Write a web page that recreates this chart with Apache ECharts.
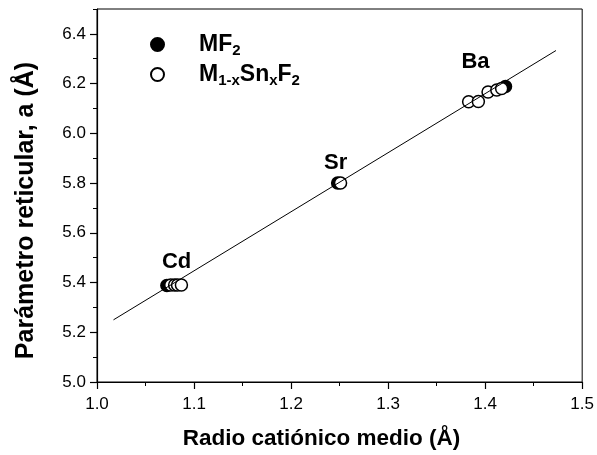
<!DOCTYPE html>
<html><head><meta charset="utf-8">
<script src="https://cdn.jsdelivr.net/npm/echarts@6/dist/echarts.min.js"></script>
<style>html,body{margin:0;padding:0;background:#fff}#c{width:597px;height:455px}</style>
</head><body><div id="c"></div>
<script>
const xTicks = [1.0, 1.1, 1.2, 1.3, 1.4, 1.5];
const yTicks = [5.0, 5.2, 5.4, 5.6, 5.8, 6.0, 6.2, 6.4];
const mfRadius = [1.072, 1.248, 1.421];
const mfLattice = [5.388, 5.800, 6.188];
const ssRadius = [1.076, 1.080, 1.083, 1.087, 1.251, 1.383, 1.393, 1.403, 1.412, 1.417];
const ssLattice = [5.390, 5.390, 5.390, 5.390, 5.800, 6.127, 6.128, 6.166, 6.174, 6.180];
const fitX = [1.017, 1.473];
const fitY = [5.250, 6.333];
const labelNames = ['Cd', 'Sr', 'Ba'];
const labelX = [1.082, 1.246, 1.390];
const labelY = [5.482, 5.880, 6.286];

const FONT = 'Liberation Sans, Arial, sans-serif';
const chart = echarts.init(document.getElementById('c'), null, {renderer: 'canvas'});
const zip = (a, b) => a.map((v, i) => [v, b[i]]);
const rich = {
  sp: {width: 30},
  b: {fontSize: 23, fontWeight: 'bold', color: '#000', fontFamily: FONT, lineHeight: 26},
  s: {fontSize: 15, fontWeight: 'bold', color: '#000', fontFamily: FONT, padding: [12, 0, 0, 0], lineHeight: 26}
};
chart.setOption({
  animation: false,
  backgroundColor: '#fff',
  grid: {left: 97, right: 12, top: 9, bottom: 72, show: true, borderColor: '#000', borderWidth: 1},
  legend: {
    data: ['MF2', 'M1-xSnxF2'], orient: 'vertical', left: 145, top: 26, itemGap: 3,
    itemWidth: 13, itemHeight: 13, icon: 'circle',
    formatter: n => n === 'MF2' ? '{sp|}{b|MF}{s|2}' : '{sp|}{b|M}{s|1-x}{b|Sn}{s|x}{b|F}{s|2}',
    textStyle: {rich: rich}
  },
  xAxis: [{
    type: 'value', min: 1.0, max: 1.5, interval: 0.1,
    name: 'Radio catiónico medio (Å)', nameLocation: 'middle', nameGap: 45,
    nameTextStyle: {fontSize: 22.5, fontWeight: 'bold', color: '#000', fontFamily: FONT, padding: [0, 36, 0, 0]},
    axisLine: {lineStyle: {color: '#000', width: 1.2}},
    axisTick: {inside: false, length: 7, lineStyle: {color: '#000', width: 1.2}},
    axisLabel: {customValues: xTicks, fontSize: 17, color: '#000', fontFamily: FONT, margin: 14, formatter: v => v.toFixed(1)},
    splitLine: {show: false}
  }, {
    type: 'value', min: 1.0, max: 1.5, interval: 0.05, position: 'bottom',
    axisLine: {show: false}, axisLabel: {show: false}, splitLine: {show: false},
    axisTick: {length: 4, lineStyle: {color: '#000', width: 1}}
  }],
  yAxis: [{
    type: 'value', min: 5.0, max: 6.5, interval: 0.1,
    name: 'Parámetro reticular, a (Å)', nameLocation: 'middle', nameGap: 58,
    nameTextStyle: {fontSize: 25, fontWeight: 'bold', color: '#000', fontFamily: FONT, padding: [0, 30, 0, 0]},
    axisLine: {show: true, lineStyle: {color: '#000', width: 1.2}},
    axisTick: {customValues: yTicks, length: 7, lineStyle: {color: '#000', width: 1.2}},
    axisLabel: {customValues: yTicks, fontSize: 17, color: '#000', fontFamily: FONT, margin: 11, formatter: v => v.toFixed(1)},
    splitLine: {show: false}
  }, {
    type: 'value', min: 5.0, max: 6.5, interval: 0.1, position: 'left',
    axisLine: {show: false}, axisLabel: {show: false}, splitLine: {show: false},
    axisTick: {length: 4, lineStyle: {color: '#000', width: 1}}
  }],
  series: [{
    name: 'MF2', type: 'scatter', data: zip(mfRadius, mfLattice), symbol: 'circle', symbolSize: 12,
    itemStyle: {color: '#000', borderColor: '#000', borderWidth: 1.5, opacity: 1}
  }, {
    name: 'M1-xSnxF2', type: 'scatter', data: zip(ssRadius, ssLattice), symbol: 'circle', symbolSize: 12,
    itemStyle: {color: '#fff', borderColor: '#000', borderWidth: 1.5, opacity: 1}
  }, {
    name: 'fit', type: 'line', data: zip(fitX, fitY), symbol: 'none', z: 5,
    lineStyle: {color: '#000', width: 1}
  }, {
    name: 'labels', type: 'scatter', symbolSize: 0, silent: true,
    itemStyle: {opacity: 1},
    data: labelNames.map((n, i) => ({value: [labelX[i], labelY[i]], name: n})),
    label: {show: true, position: 'inside', formatter: p => p.name, fontSize: 22, fontWeight: 'bold', color: '#000', opacity: 1, fontFamily: FONT}
  }]
});
</script></body></html>
